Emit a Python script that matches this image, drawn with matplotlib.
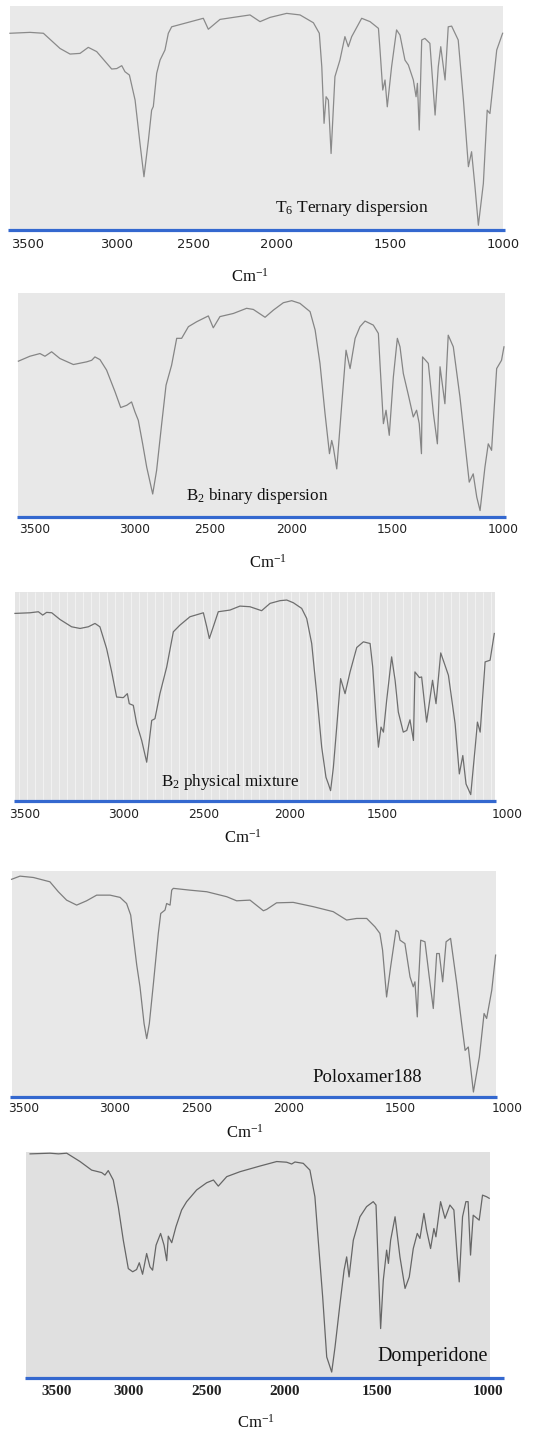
import numpy as np
import matplotlib
matplotlib.use("Agg")
import matplotlib.pyplot as plt

plt.rcParams['mathtext.fontset'] = 'custom'
plt.rcParams['mathtext.rm'] = 'Liberation Serif'
plt.rcParams['mathtext.it'] = 'Liberation Serif:italic'
plt.rcParams['mathtext.bf'] = 'Liberation Serif:bold'

W, H = 549, 1433

ticks = [3500, 3000, 2500, 2000, 1500, 1000]
tick_labels = [str(t) for t in ticks]

# --- spectra: wavenumber (cm-1) vs transmittance (% of frame height) ---
t6_wn = [3597, 3485, 3410, 3317, 3261, 3205, 3159, 3112, 3028, 3000, 2967, 2946,
         2917, 2880, 2848, 2822, 2793, 2772, 2761, 2739, 2717, 2685, 2663, 2641,
         2543, 2440, 2410, 2340, 2260, 2160, 2100, 2040, 1956, 1897, 1838, 1812,
         1801, 1791, 1782, 1772, 1760, 1743, 1721, 1699, 1684, 1669, 1625, 1588,
         1551, 1544, 1532, 1522, 1512, 1493, 1471, 1456, 1434, 1419, 1397, 1385,
         1379, 1371, 1360, 1346, 1324, 1301, 1287, 1276, 1257, 1243, 1228, 1199,
         1176, 1154, 1140, 1125, 1110, 1088, 1071, 1059, 1029, 1003]
t6_T = [87.8, 88.2, 87.8, 81.0, 78.5, 78.8, 81.5, 79.6, 71.8, 72.0, 73.3, 70.6,
        69.1, 57.9, 38.5, 23.6, 40.0, 53.4, 55.0, 69.9, 75.8, 80.3, 87.8, 90.7,
        92.5, 94.5, 89.6, 94.0, 94.9, 96.0, 93.0, 94.9, 96.7, 96.0, 92.5, 87.8,
        72.8, 47.5, 59.4, 57.9, 34.0, 68.4, 75.8, 86.3, 81.8, 86.3, 94.5, 93.0,
        90.0, 80.3, 62.4, 66.9, 54.9, 72.8, 89.3, 87.0, 75.8, 73.6, 66.9, 59.4,
        65.4, 44.5, 84.8, 85.5, 83.3, 51.2, 72.8, 81.8, 66.9, 90.7, 91.0, 84.8,
        57.9, 28.1, 34.8, 19.1, 1.9, 20.6, 53.4, 51.9, 80.3, 87.8]

b2bin_wn = [3579, 3522, 3472, 3447, 3414, 3373, 3306, 3240, 3215, 3199, 3174, 3141,
            3099, 3071, 3041, 3017, 3000, 2978, 2949, 2922, 2882, 2856, 2822, 2793,
            2756, 2722, 2689, 2644, 2589, 2511, 2480, 2439, 2357, 2276, 2235, 2163,
            2112, 2051, 2000, 1959, 1909, 1884, 1860, 1835, 1813, 1802, 1794, 1777,
            1752, 1731, 1711, 1686, 1662, 1637, 1596, 1571, 1563, 1546, 1533, 1517,
            1497, 1479, 1467, 1452, 1429, 1407, 1392, 1380, 1370, 1365, 1339, 1316,
            1298, 1286, 1264, 1249, 1226, 1196, 1173, 1154, 1136, 1120, 1105, 1083,
            1068, 1053, 1030, 1008, 997]
b2bin_T = [69.7, 71.9, 73.1, 71.9, 73.9, 70.9, 68.2, 69.4, 70.1, 71.6, 70.4, 65.7,
           56.0, 49.0, 50.0, 51.5, 47.0, 43.3, 32.8, 22.4, 10.4, 20.9, 41.8, 59.0,
           67.9, 79.9, 79.9, 85.1, 87.3, 89.9, 84.6, 89.6, 91.0, 93.3, 92.8, 89.3,
           92.5, 95.8, 96.7, 95.5, 91.8, 83.6, 68.7, 46.3, 28.4, 34.3, 31.3, 21.6,
           50.7, 74.6, 66.4, 79.9, 85.1, 87.6, 85.8, 82.1, 68.7, 41.8, 47.8, 36.6,
           62.7, 79.9, 76.1, 64.2, 54.5, 44.8, 47.8, 41.8, 28.4, 71.6, 68.7, 46.3,
           32.8, 67.2, 50.7, 81.3, 76.1, 53.7, 32.8, 15.7, 19.4, 9.0, 3.0, 22.4,
           32.8, 29.9, 66.4, 70.1, 76.1]

b2mix_wn = [3551, 3475, 3432, 3410, 3390, 3364, 3322, 3263, 3220, 3178, 3144, 3119,
            3085, 3059, 3034, 3000, 2975, 2963, 2938, 2917, 2886, 2855, 2824, 2804,
            2773, 2731, 2690, 2649, 2587, 2504, 2484, 2469, 2446, 2417, 2349, 2291,
            2233, 2165, 2116, 2058, 2019, 1982, 1937, 1910, 1883, 1856, 1829, 1806,
            1793, 1781, 1766, 1748, 1727, 1703, 1676, 1640, 1604, 1568, 1554, 1536,
            1523, 1509, 1497, 1484, 1464, 1450, 1437, 1417, 1403, 1390, 1376, 1370,
            1352, 1343, 1323, 1299, 1285, 1266, 1235, 1208, 1191, 1177, 1164, 1145,
            1127, 1118, 1107, 1087, 1067, 1050]
b2mix_T = [89.9, 90.2, 90.7, 89.1, 90.4, 90.2, 87.0, 83.5, 82.7, 83.5, 85.1, 83.5,
           73.1, 61.9, 49.9, 49.6, 51.5, 46.7, 45.9, 37.1, 29.1, 18.7, 38.7, 39.5,
           51.5, 64.3, 81.1, 84.3, 88.3, 90.2, 83.5, 77.9, 83.5, 90.7, 91.5, 93.4,
           93.1, 91.2, 94.7, 96.0, 96.3, 95.0, 92.3, 87.5, 75.5, 51.5, 25.9, 11.5,
           8.3, 5.1, 16.3, 35.5, 58.7, 51.5, 61.9, 73.6, 76.3, 75.5, 64.3, 40.3,
           25.9, 35.5, 33.1, 48.3, 69.1, 57.9, 42.7, 33.1, 33.9, 39.0, 29.1, 61.9,
           59.2, 59.5, 37.9, 57.9, 46.7, 71.0, 60.3, 37.1, 13.1, 21.9, 8.3, 3.2,
           25.9, 37.9, 33.1, 66.7, 67.5, 80.3]

polox_wn = [3564, 3518, 3445, 3355, 3309, 3264, 3209, 3155, 3100, 3027, 2969, 2929,
            2904, 2888, 2867, 2847, 2822, 2806, 2790, 2765, 2735, 2720, 2694, 2684,
            2663, 2653, 2643, 2541, 2445, 2336, 2282, 2209, 2136, 2118, 2064, 1978,
            1888, 1799, 1739, 1694, 1649, 1612, 1590, 1578, 1560, 1542, 1518, 1507,
            1500, 1477, 1453, 1438, 1430, 1419, 1413, 1403, 1383, 1363, 1344, 1328,
            1316, 1300, 1284, 1263, 1234, 1211, 1195, 1180, 1156, 1128, 1106, 1094,
            1070, 1052]
polox_T = [96.2, 97.6, 97.0, 95.1, 90.7, 87.0, 84.8, 86.7, 89.2, 89.2, 88.2, 85.5,
           80.4, 70.8, 58.3, 48.7, 32.4, 25.8, 32.4, 50.1, 72.3, 81.1, 82.6, 85.5,
           84.8, 91.4, 92.2, 91.4, 90.7, 88.5, 86.7, 87.0, 82.3, 82.9, 85.8, 86.0,
           84.1, 81.9, 78.2, 78.9, 78.9, 75.2, 72.3, 64.9, 44.2, 57.5, 73.7, 73.0,
           69.3, 67.8, 53.1, 48.7, 50.9, 35.4, 50.9, 69.3, 68.6, 53.1, 39.1, 63.4,
           63.4, 50.9, 68.6, 70.1, 50.1, 32.4, 20.6, 22.1, 2.2, 17.7, 36.9, 34.7,
           47.2, 62.7]

domp_wn = [3686, 3547, 3488, 3430, 3337, 3256, 3186, 3163, 3140, 3105, 3070, 3035,
           3000, 2972, 2947, 2930, 2909, 2883, 2862, 2845, 2823, 2794, 2772, 2755,
           2745, 2723, 2696, 2660, 2628, 2564, 2500, 2457, 2426, 2372, 2287, 2160,
           2053, 1991, 1964, 1946, 1901, 1865, 1838, 1820, 1796, 1774, 1747, 1729,
           1702, 1680, 1666, 1653, 1630, 1594, 1558, 1522, 1507, 1495, 1485, 1473,
           1458, 1450, 1440, 1420, 1398, 1375, 1356, 1338, 1320, 1308, 1290, 1278,
           1260, 1245, 1236, 1215, 1195, 1173, 1155, 1140, 1131, 1116, 1101, 1091,
           1080, 1068, 1041, 1026, 1008, 996]
domp_T = [99.3, 99.6, 99.3, 99.6, 95.9, 92.1, 91.0, 89.9, 91.9, 87.7, 75.9, 61.0,
          48.4, 47.0, 48.0, 51.0, 45.9, 55.1, 49.2, 47.7, 58.8, 64.0, 58.8, 51.9,
          62.8, 59.9, 67.0, 74.4, 78.1, 83.3, 86.5, 87.7, 85.0, 89.2, 91.4, 93.9,
          95.9, 95.6, 94.8, 95.7, 95.1, 92.1, 80.3, 61.0, 35.9, 9.2, 2.5, 13.6,
          32.9, 47.7, 53.6, 44.7, 61.0, 71.4, 75.9, 78.1, 76.6, 47.7, 21.8, 43.3,
          56.6, 50.7, 61.0, 71.4, 53.6, 39.6, 44.7, 57.3, 64.0, 61.8, 72.9, 65.5,
          57.3, 66.2, 62.5, 78.1, 70.7, 76.6, 74.4, 53.6, 42.5, 71.4, 78.1, 78.1,
          54.4, 72.1, 69.9, 81.0, 80.3, 79.6]

names = [r"T$_{\mathregular{6}}$ Ternary dispersion",
         r"B$_{\mathregular{2}}$ binary dispersion",
         r"B$_{\mathregular{2}}$ physical mixture",
         "Poloxamer188",
         "Domperidone"]
spectra = [(t6_wn, t6_T), (b2bin_wn, b2bin_T), (b2mix_wn, b2mix_T),
           (polox_wn, polox_T), (domp_wn, domp_T)]

# frame layout in figure pixels: tick x positions (3500..1000), frame left/right,
# blue rule left/right, frame top, rule y, name position, unit label position
layout = [
    dict(tx=[27.3, 116.7, 193.3, 276.7, 390.0, 503.3], fr=(10, 503), rule=(8, 505),
         top=6, bot=229.5, name=(352, 208), unit=(250, 277), bg='#e9e9e9', lc='#8a8a8a',
         tfont=dict(family='DejaVu Sans', size=9.4), pad=6.0, nsize=12.5),
    dict(tx=[34.3, 135.0, 210.0, 291.7, 392.7, 503.3], fr=(18, 505), rule=(17, 506),
         top=293.3, bot=517.3, name=(257, 496), unit=(268, 563), bg='#e8e8e8', lc='#858585',
         tfont=dict(family='DejaVu Sans', size=8.8), pad=4.3, nsize=12.3),
    dict(tx=[25.0, 123.3, 204.0, 290.0, 382.7, 506.7], fr=(15, 495), rule=(14, 496),
         top=592.3, bot=801.3, name=(230, 782), unit=(243, 838), bg='#e5e5e5', lc='#6e6e6e',
         tfont=dict(family='DejaVu Sans', size=8.8), pad=4.8, nsize=12.3, stripes=True),
    dict(tx=[23.3, 115.0, 196.7, 288.3, 400.0, 506.7], fr=(12, 496), rule=(10, 497),
         top=870.7, bot=1097, name=(367, 1078), unit=(245, 1133), bg='#e8e8e8', lc='#7e7e7e',
         tfont=dict(family='DejaVu Sans', size=8.8), pad=3.6, nsize=13.5),
    dict(tx=[56.7, 128.3, 206.7, 285.0, 377.3, 488.3], fr=(26, 490), rule=(25, 504),
         top=1152.3, bot=1377.7, name=(433, 1357), unit=(256, 1423), bg='#e0e0e0', lc='#666666',
         tfont=dict(family='Liberation Serif', size=11, weight='bold'), pad=5.5, nsize=14.5),
]


def piecewise(xp, fp):
    """Linear interpolation through (xp, fp) with linear extrapolation at both ends."""
    xp = np.asarray(xp, float)
    fp = np.asarray(fp, float)

    def f(x):
        x = np.asarray(x, float)
        y = np.interp(x, xp, fp)
        y = np.where(x < xp[0], fp[0] + (x - xp[0]) * (fp[1] - fp[0]) / (xp[1] - xp[0]), y)
        y = np.where(x > xp[-1], fp[-1] + (x - xp[-1]) * (fp[-1] - fp[-2]) / (xp[-1] - xp[-2]), y)
        return y
    return f


fig = plt.figure(figsize=(W / 100, H / 100), dpi=100, facecolor='white')

for name, (wn, T), L in zip(names, spectra, layout):
    # the chart paper is printed with a different cm-1 spacing in each segment,
    # so map wavenumber onto the printed tick positions piece by piece.
    # Scale space is the negated pixel column, which rises with wavenumber.
    wn_up = np.array(ticks[::-1], float)
    neg_px = -np.array(L['tx'][::-1], float)
    fwd = piecewise(wn_up, neg_px)
    inv = piecewise(neg_px, wn_up)

    def at(p, inv=inv):
        return float(inv(-p))

    x0 = min(L['fr'][0], L['rule'][0]) - 2
    x1 = max(L['fr'][1], L['rule'][1], L['tx'][-1]) + 2
    ax = fig.add_axes([x0 / W, 1 - L['bot'] / H, (x1 - x0) / W, (L['bot'] - L['top']) / H])
    ax.set_xscale('function', functions=(fwd, inv))
    ax.set_xlim(at(x0), at(x1))
    ax.set_ylim(0, 100)
    ax.patch.set_alpha(0)
    for s in ax.spines.values():
        s.set_visible(False)

    ax.axvspan(at(L['fr'][0]), at(L['fr'][1]), facecolor=L['bg'], edgecolor='none', zorder=0)
    if L.get('stripes'):
        cols = inv(-np.arange(L['fr'][0] + 4, L['fr'][1], 8.0))
        ax.vlines(cols, 0, 100, color='#f4f4f4', lw=0.6, zorder=0.5)

    ax.plot(wn, T, color=L['lc'], lw=0.9, zorder=2)

    ax.plot([at(L['rule'][0]), at(L['rule'][1])], [0, 0],
            color='#3468cf', lw=2.3, solid_capstyle='butt', clip_on=False, zorder=3)

    ax.set_xticks(ticks, labels=tick_labels)
    ax.set_yticks([])
    ax.tick_params(axis='x', length=0, pad=L['pad'], labelcolor='#222222')
    for lab in ax.get_xticklabels():
        lab.set_fontfamily(L['tfont']['family'])
        lab.set_fontsize(L['tfont']['size'])
        lab.set_fontweight(L['tfont'].get('weight', 'normal'))

    fig.text(L['name'][0] / W, 1 - L['name'][1] / H, name, ha='center', va='center',
             family='Liberation Serif', fontsize=L['nsize'], color='#111111')
    fig.text(L['unit'][0] / W, 1 - L['unit'][1] / H, r"Cm$^{\mathregular{-1}}$",
             ha='center', va='center', family='Liberation Serif', fontsize=12, color='#111111')

fig.savefig('out.png', dpi=100, facecolor='white')
